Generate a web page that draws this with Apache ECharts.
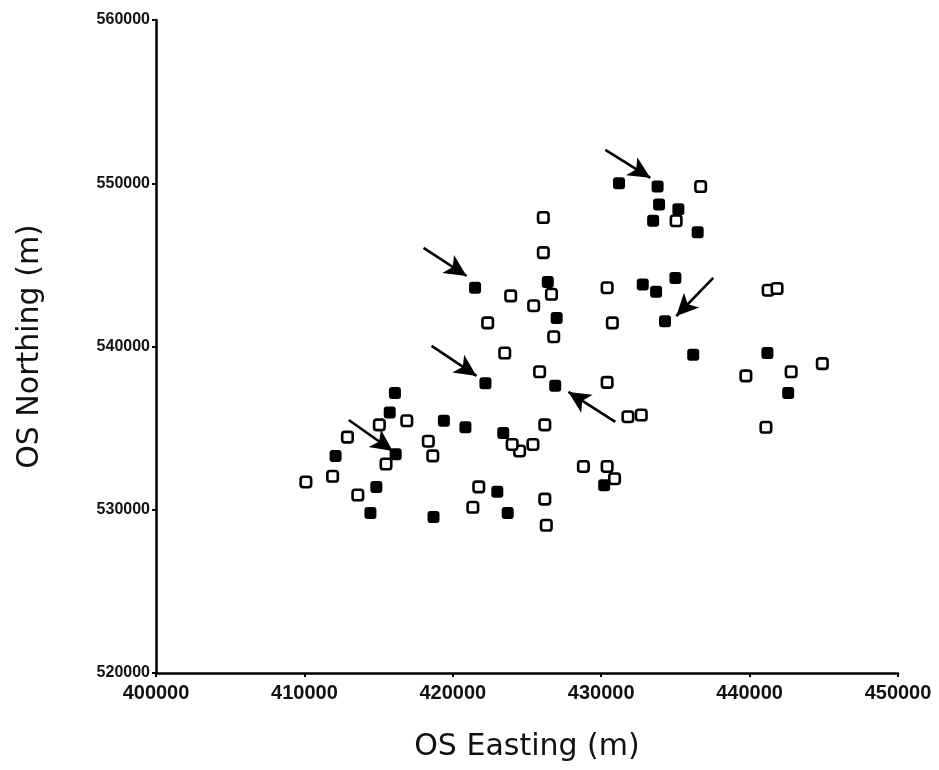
<!DOCTYPE html>
<html>
<head>
<meta charset="utf-8">
<script src="https://cdn.jsdelivr.net/npm/echarts@6/dist/echarts.min.js"></script>
<style>
html,body{margin:0;padding:0;background:#fff;}
#chart{width:939px;height:770px;}
</style>
</head>
<body>
<div id="chart"></div>
<script>
// Filled (black) sites: [easting, northing]
var filledSites = [
  [431200,550000],[433800,549800],[433900,548700],[435200,548400],[433500,547700],[436500,547000],
  [426400,543950],[427000,541750],[432800,543800],[433700,543350],[435000,544200],[434300,541550],
  [436200,539500],[441200,539600],[442600,537150],[422200,537750],[416100,537150],[415750,535950],
  [419400,535450],[420850,535050],[412100,533300],[416150,533400],[414850,531400],[414450,529800],
  [418700,529550],[423000,531100],[423700,529800],[421500,543600],[426900,537600],[423400,534700],
  [430200,531500]
];
// Open (hollow) sites: [easting, northing]
var openSites = [
  [436700,549800],[435050,547700],[426100,547900],[426100,545750],[426650,543200],[423900,543100],
  [425450,542500],[422350,541450],[426800,540600],[423500,539600],[425850,538450],[430400,543600],
  [430750,541450],[430400,537800],[441250,543450],[441850,543550],[439750,538200],[442800,538450],
  [444900,538950],[441100,535050],[415050,535200],[416900,535450],[412900,534450],[418350,534200],
  [418650,533300],[415500,532800],[410100,531700],[411900,532050],[413600,530900],[421750,531400],
  [421350,530150],[426200,530650],[426300,529050],[428800,532650],[426200,535200],[425400,534000],
  [424500,533600],[424000,534000],[430400,532650],[430900,531900],[431800,535700],[432700,535800]
];
// Annotation arrows: [tail, head] in data coordinates
var arrows = [
  [[430280,552040],[433310,550330]],
  [[418030,546040],[420930,544320]],
  [[437550,544200],[435060,541870]],
  [[418570,540040],[421600,538200]],
  [[430950,535380],[427790,537220]],
  [[412990,535500],[415950,533600]]
];
var xTicks = {min:400000, max:450000, step:10000};
var yTicks = {min:520000, max:560000, step:10000};

var chart = echarts.init(document.getElementById('chart'));
function plain(v){ return String(v); }
chart.setOption({
  animation:false,
  backgroundColor:'#fff',
  grid:{left:156, right:41, top:20, bottom:97, containLabel:false},
  xAxis:{
    type:'value', min:xTicks.min, max:xTicks.max, interval:xTicks.step,
    name:'OS Easting (m)', nameLocation:'middle', nameGap:59,
    nameTextStyle:{color:'#111', fontFamily:'DejaVu Sans, Liberation Sans, sans-serif', fontSize:30},
    axisLine:{show:true, lineStyle:{color:'#000', width:2.5}},
    axisTick:{show:true, length:4, lineStyle:{color:'#000', width:2}},
    axisLabel:{margin:10, formatter:plain, color:'#111', fontFamily:'Liberation Sans, Arial, sans-serif', fontSize:20, fontWeight:'bold'},
    splitLine:{show:false}
  },
  yAxis:{
    type:'value', min:yTicks.min, max:yTicks.max, interval:yTicks.step,
    name:'OS Northing (m)', nameLocation:'middle', nameGap:111, nameRotate:90,
    nameTextStyle:{color:'#111', fontFamily:'DejaVu Sans, Liberation Sans, sans-serif', fontSize:30},
    axisLine:{show:true, lineStyle:{color:'#000', width:2.5}},
    axisTick:{show:true, length:4, lineStyle:{color:'#000', width:2}},
    axisLabel:{margin:6, formatter:plain, color:'#111', fontFamily:'Liberation Sans, Arial, sans-serif', fontSize:16, fontWeight:'bold'},
    splitLine:{show:false}
  },
  series:[
    {
      type:'scatter', data:openSites, symbol:'roundRect', symbolSize:10.5,
      itemStyle:{color:'#fff', borderColor:'#000', borderWidth:2.6, opacity:1},
      z:3
    },
    {
      type:'scatter', data:filledSites, symbol:'roundRect', symbolSize:12,
      itemStyle:{color:'#000', opacity:1},
      z:4
    },
    {
      type:'scatter', data:[], silent:true,
      markLine:{
        silent:true, animation:false,
        symbol:['none','arrow'], symbolSize:[16,22],
        label:{show:false},
        lineStyle:{color:'#000', width:2.6, type:'solid'},
        data:arrows.map(function(a){ return [{coord:a[0]},{coord:a[1]}]; })
      },
      z:5
    }
  ]
});
</script>
</body>
</html>
